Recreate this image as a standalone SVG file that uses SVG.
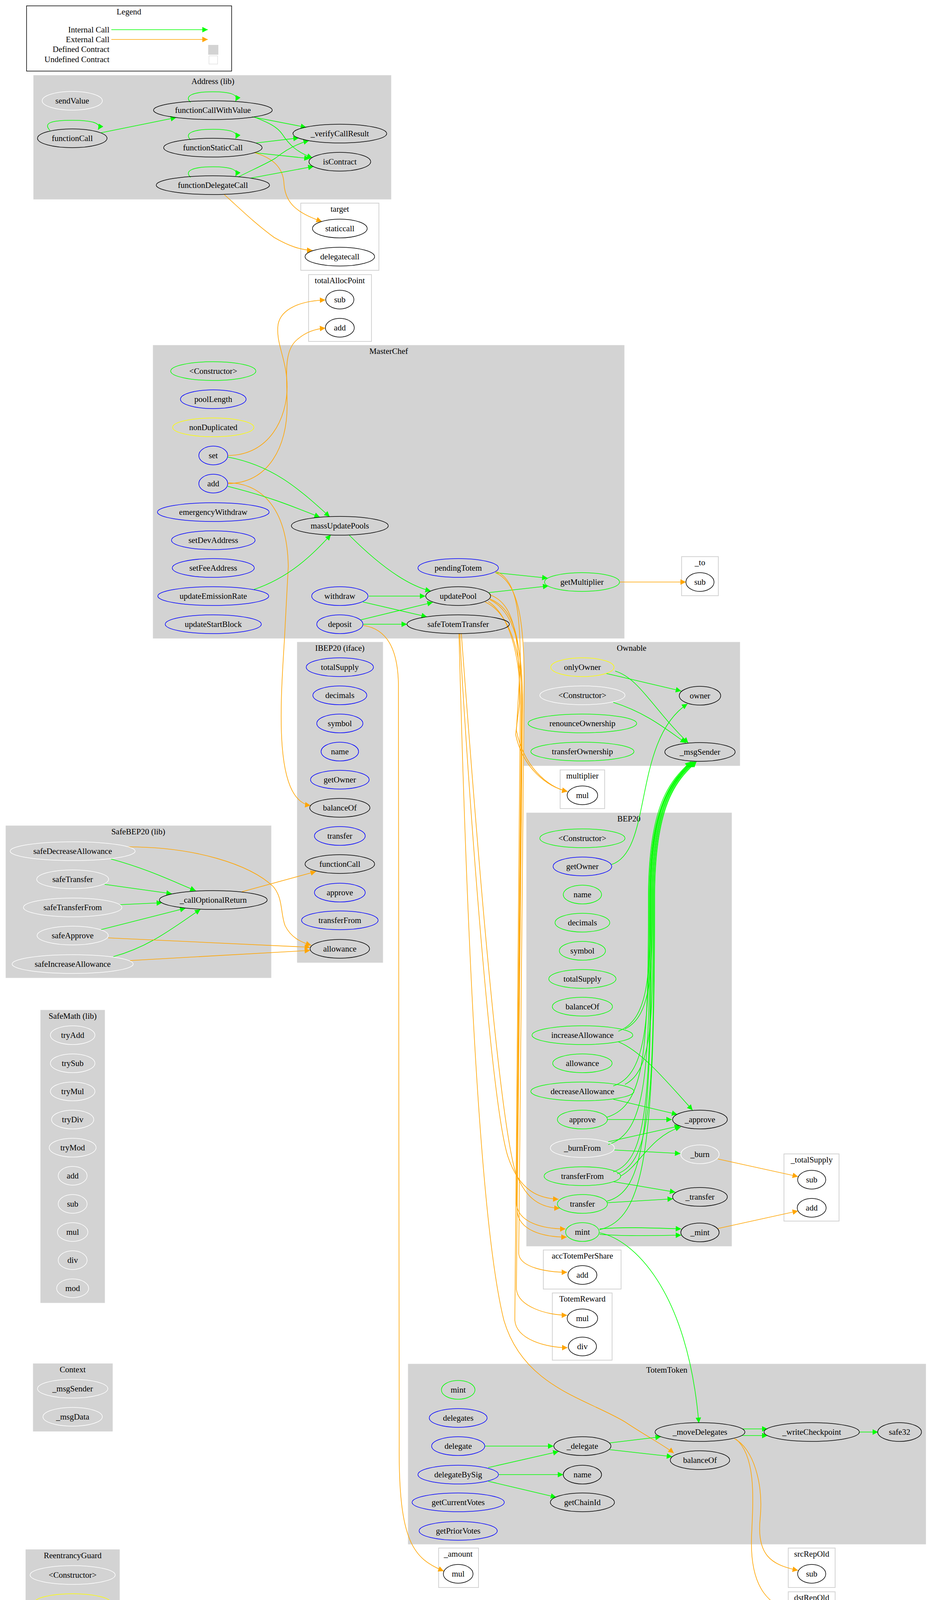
<svg xmlns="http://www.w3.org/2000/svg" width="2386" height="4191" viewBox="0 0 2386 4191">
<style>
text{font-family:"Liberation Serif","Times New Roman",serif;font-size:21px;fill:#000;text-anchor:middle}
.cl{fill:#d3d3d3;stroke:#d3d3d3}
.cu{fill:#fff;stroke:#d3d3d3;stroke-width:2}
ellipse{fill:none;stroke-width:1.5}
.k{stroke:#000}.b{stroke:#0000ff}.g{stroke:#00ff00}.y{stroke:#ffff00}.w{stroke:#fff}
.eg{fill:none;stroke:#00ff00;stroke-width:1.6;marker-end:url(#ag)}
.eo{fill:none;stroke:#ffa500;stroke-width:1.6;marker-end:url(#ao)}
</style>
<defs>
<marker id="ag" viewBox="0 0 10 10" refX="10" refY="5" markerWidth="16" markerHeight="14" markerUnits="userSpaceOnUse" orient="auto"><path d="M0,0L10,5L0,10z" fill="#00ff00"/></marker>
<marker id="ao" viewBox="0 0 10 10" refX="10" refY="5" markerWidth="16" markerHeight="14" markerUnits="userSpaceOnUse" orient="auto"><path d="M0,0L10,5L0,10z" fill="#ffa500"/></marker>
</defs>
<rect width="2386" height="4191" fill="#fff"/>

<g id="legend">
<rect x="68" y="15" width="525" height="167" fill="#fff" stroke="#000" stroke-width="1.5"/>
<text x="330" y="37">Legend</text>
<text x="280" y="83" style="text-anchor:end">Internal Call</text>
<text x="280" y="108" style="text-anchor:end">External Call</text>
<text x="280" y="133" style="text-anchor:end">Defined Contract</text>
<text x="280" y="159" style="text-anchor:end">Undefined Contract</text>
<path class="eg" d="M285,76H532"/>
<path class="eo" d="M285,101H532"/>
<rect x="533" y="115" width="26" height="25" fill="#d3d3d3"/>
<rect x="535" y="143" width="22" height="21" fill="#fff" stroke="#d3d3d3"/>
</g>

<g id="clusters">
<rect class="cl" x="86" y="193" width="915" height="317"/><text x="545" y="215">Address  (lib)</text>
<rect class="cu" x="770" y="520" width="200" height="172"/><text x="870" y="542">target</text>
<rect class="cu" x="790" y="703" width="161" height="171"/><text x="870" y="725">totalAllocPoint</text>
<rect class="cl" x="392" y="884" width="1206" height="750"/><text x="995" y="906">MasterChef</text>
<rect class="cu" x="1745" y="1425" width="94" height="100"/><text x="1792" y="1447">_to</text>
<rect class="cl" x="761" y="1644" width="219" height="820"/><text x="870" y="1666">IBEP20  (iface)</text>
<rect class="cl" x="1341" y="1644" width="553" height="316"/><text x="1617" y="1666">Ownable</text>
<rect class="cu" x="1434" y="1971" width="114" height="99"/><text x="1491" y="1993">multiplier</text>
<rect class="cl" x="1348" y="2081" width="525" height="1109"/><text x="1610" y="2103">BEP20</text>
<rect class="cl" x="15" y="2114" width="679" height="389"/><text x="354" y="2136">SafeBEP20  (lib)</text>
<rect class="cl" x="104" y="2586" width="164" height="749"/><text x="186" y="2608">SafeMath  (lib)</text>
<rect class="cu" x="2007" y="2954" width="141" height="172"/><text x="2078" y="2976">_totalSupply</text>
<rect class="cu" x="1391" y="3200" width="199" height="100"/><text x="1491" y="3222">accTotemPerShare</text>
<rect class="cu" x="1414" y="3310" width="153" height="172"/><text x="1491" y="3332">TotemReward</text>
<rect class="cl" x="85" y="3491" width="203" height="173"/><text x="186" y="3513">Context</text>
<rect class="cl" x="1045" y="3492" width="1325" height="461"/><text x="1707" y="3514">TotemToken</text>
<rect class="cl" x="66" y="3967" width="240" height="173"/><text x="186" y="3989">ReentrancyGuard</text>
<rect class="cu" x="1123" y="3963" width="102" height="101"/><text x="1173" y="3985">_amount</text>
<rect class="cu" x="2018" y="3963" width="120" height="101"/><text x="2078" y="3985">srcRepOld</text>
<rect class="cu" x="2018" y="4075" width="120" height="99"/><text x="2078" y="4097">dstRepOld</text>
</g>

<g id="edges">
<!-- Address -->
<path class="eg" d="M488,262C470,245 495,235 545,235C590,235 612,242 603,259"/>
<path class="eg" d="M128,334C110,315 130,308 185,308C235,308 262,315 251,332"/>
<path class="eg" d="M258,340L451,301"/>
<path class="eg" d="M488,358C470,341 495,331 545,331C590,331 612,338 603,355"/>
<path class="eg" d="M488,454C470,437 495,427 545,427C590,427 612,434 603,451"/>
<path class="eg" d="M645,299L784,326"/>
<path class="eg" d="M652,300C690,315 710,325 723,344C740,370 760,390 800,404"/>
<path class="eg" d="M656,366L765,353"/>
<path class="eg" d="M652,391L793,406"/>
<path class="eo" d="M652,391C700,405 725,430 727,470C730,520 760,545 824,567"/>
<path class="eg" d="M610,453C650,433 690,415 705,405C730,385 760,368 791,360"/>
<path class="eg" d="M642,456L803,426"/>
<path class="eo" d="M574,498C610,530 650,570 702,608C740,630 770,640 800,641"/>
<!-- MasterChef -->
<path class="eo" d="M583,1166C690,1166 735,1070 735,990C735,920 705,880 712,830C720,790 770,770 833,768"/>
<path class="eo" d="M584,1238C690,1236 735,1140 735,1040C735,960 725,900 760,870C780,852 805,842 833,840"/>
<path class="eo" d="M584,1236C660,1236 735,1290 738,1450L728,1640C718,1800 700,2050 795,2062"/>
<path class="eg" d="M583,1170C695,1191 761,1247 844,1323"/>
<path class="eg" d="M583,1245C695,1273 753,1298 819,1324"/>
<path class="eg" d="M650,1509C745,1477 803,1416 847,1369"/>
<path class="eg" d="M894,1370C960,1436 1035,1497 1103,1513"/>
<path class="eg" d="M944,1526H1089"/>
<path class="eg" d="M929,1541L1093,1579"/>
<path class="eg" d="M923,1587L1108,1542"/>
<path class="eg" d="M930,1598H1042"/>
<path class="eg" d="M1268,1466L1402,1480"/>
<path class="eg" d="M1252,1517L1404,1500"/>
<path class="eo" d="M1587,1490H1756"/>
<path class="eo" d="M930,1601C990,1610 1018,1660 1020,1750L1022,3700C1020,3950 1060,3990 1136,4022"/>
<path class="eo" d="M1177,1622C1185,1800 1250,2800 1300,2960C1330,3050 1380,3068 1430,3070"/>
<path class="eo" d="M1181,1622C1195,1800 1265,2800 1318,2995C1345,3075 1390,3092 1433,3093"/>
<path class="eo" d="M1175,1622C1190,2200 1220,3100 1290,3380C1340,3550 1500,3580 1600,3640C1660,3680 1700,3700 1725,3720"/>
<path class="eo" d="M1268,1462C1320,1480 1332,1560 1332,1700L1322,1870C1340,1960 1400,2015 1453,2026"/>
<path class="eo" d="M1253,1522C1315,1545 1330,1620 1330,1800L1320,1880C1338,1965 1400,2015 1453,2026"/>
<path class="eo" d="M1254,1533C1320,1560 1335,1640 1335,1800L1322,3080C1325,3130 1390,3146 1448,3146"/>
<path class="eo" d="M1254,1535C1315,1565 1338,1650 1338,1800L1324,3100C1328,3150 1390,3167 1451,3167"/>
<path class="eo" d="M1268,1466C1325,1490 1342,1580 1342,1750L1328,3210C1332,3245 1400,3257 1452,3257"/>
<path class="eo" d="M1242,1541C1305,1570 1336,1670 1336,1800L1322,3300C1326,3345 1400,3367 1452,3367"/>
<path class="eo" d="M1250,1540C1305,1575 1332,1680 1332,1800L1318,3380C1322,3430 1400,3450 1453,3450"/>
<!-- Ownable / BEP20 -->
<path class="eg" d="M1552,1724L1744,1769"/>
<path class="eg" d="M1575,1718C1636,1736 1672,1815 1762,1902"/>
<path class="eg" d="M1570,1798C1654,1824 1707,1868 1756,1902"/>
<path class="eg" d="M1566,2213C1672,2178 1619,1895 1760,1802"/>
<path class="eg" d="M1583,2640C1660,2610 1665,2500 1665,2300C1665,2060 1720,2000 1770,1950"/>
<path class="eg" d="M1600,2634C1670,2600 1670,2480 1670,2300C1670,2060 1725,2000 1775,1950"/>
<path class="eg" d="M1570,2780C1660,2750 1662,2600 1662,2300C1662,2060 1720,2000 1770,1950"/>
<path class="eg" d="M1600,2776C1672,2740 1672,2600 1672,2300C1672,2060 1725,2000 1778,1950"/>
<path class="eg" d="M1554,2860C1650,2830 1660,2700 1660,2300C1660,2060 1715,2000 1768,1950"/>
<path class="eg" d="M1557,2930C1655,2900 1664,2750 1664,2300C1664,2060 1718,2000 1770,1950"/>
<path class="eg" d="M1570,3000C1660,2970 1666,2800 1666,2300C1666,2060 1720,2000 1773,1950"/>
<path class="eg" d="M1580,3005C1668,2975 1674,2800 1674,2300C1674,2060 1728,2000 1780,1950"/>
<path class="eg" d="M1554,3075C1650,3050 1668,2900 1668,2300C1668,2060 1722,2000 1775,1950"/>
<path class="eg" d="M1535,3148C1650,3120 1676,2950 1676,2300C1676,2060 1730,2000 1783,1950"/>
<path class="eg" d="M1583,2667C1640,2690 1700,2760 1773,2842"/>
<path class="eg" d="M1570,2814L1734,2853"/>
<path class="eg" d="M1554,2866H1720"/>
<path class="eg" d="M1557,2923L1741,2882"/>
<path class="eg" d="M1573,2944L1742,2953"/>
<path class="eg" d="M1588,3011C1636,2987 1663,2910 1743,2885"/>
<path class="eg" d="M1570,3025L1729,3052"/>
<path class="eg" d="M1554,3079L1723,3069"/>
<path class="eg" d="M1535,3146C1600,3140 1680,3144 1744,3146"/>
<path class="eg" d="M1535,3160C1600,3165 1680,3163 1744,3162"/>
<path class="eg" d="M1535,3156C1619,3172 1760,3300 1789,3643"/>
<path class="eo" d="M1838,2967L2043,3012"/>
<path class="eo" d="M1838,3145L2043,3100"/>
<!-- SafeBEP20 -->
<path class="eg" d="M284,2199C383,2226 446,2258 501,2280"/>
<path class="eg" d="M268,2264L440,2288"/>
<path class="eg" d="M306,2316L415,2311"/>
<path class="eg" d="M258,2380L475,2325"/>
<path class="eg" d="M290,2449C383,2424 446,2373 513,2328"/>
<path class="eo" d="M327,2168C500,2168 640,2213 700,2270C725,2300 718,2340 730,2370C745,2400 770,2412 797,2420"/>
<path class="eo" d="M277,2401L794,2425"/>
<path class="eo" d="M333,2459L794,2433"/>
<path class="eo" d="M619,2283L809,2231"/>
<!-- TotemToken -->
<path class="eg" d="M1241,3702H1417"/>
<path class="eg" d="M1250,3757L1430,3716"/>
<path class="eg" d="M1277,3775H1442"/>
<path class="eg" d="M1250,3792L1424,3833"/>
<path class="eg" d="M1560,3694L1692,3678"/>
<path class="eg" d="M1560,3711L1721,3729"/>
<path class="eg" d="M1900,3658H1965"/>
<path class="eg" d="M1900,3675H1965"/>
<path class="eg" d="M2200,3666H2248"/>
<path class="eo" d="M1880,3683C1928,3707 1955,3797 1946,3888C1937,3979 1972,4006 2043,4020"/>
<path class="eo" d="M1884,3684C1937,3729 1928,3843 1924,3933C1919,4070 1972,4115 2043,4129"/>
</g>

<g id="nodes">
<g id="a_sendValue"><ellipse class="w" cx="185" cy="258" rx="77" ry="24"/><text x="185" y="265">sendValue</text></g>
<g id="a_functionCall"><ellipse class="k" cx="185" cy="354" rx="89" ry="24"/><text x="185" y="361">functionCall</text></g>
<g id="a_functionCallWithValue"><ellipse class="k" cx="545" cy="282" rx="152" ry="24"/><text x="545" y="289">functionCallWithValue</text></g>
<g id="a_functionStaticCall"><ellipse class="k" cx="545" cy="378" rx="126" ry="24"/><text x="545" y="385">functionStaticCall</text></g>
<g id="a_functionDelegateCall"><ellipse class="k" cx="545" cy="474" rx="145" ry="24"/><text x="545" y="481">functionDelegateCall</text></g>
<g id="a_verifyCallResult"><ellipse class="k" cx="870" cy="342" rx="120" ry="24"/><text x="870" y="349">_verifyCallResult</text></g>
<g id="a_isContract"><ellipse class="k" cx="870" cy="414" rx="79" ry="24"/><text x="870" y="421">isContract</text></g>
<g id="t_staticcall"><ellipse class="k" cx="870" cy="585" rx="70" ry="24"/><text x="870" y="592">staticcall</text></g>
<g id="t_delegatecall"><ellipse class="k" cx="870" cy="657" rx="89" ry="24"/><text x="870" y="664">delegatecall</text></g>
<g id="tap_sub"><ellipse class="k" cx="870" cy="767" rx="36" ry="24"/><text x="870" y="774">sub</text></g>
<g id="tap_add"><ellipse class="k" cx="870" cy="839" rx="37" ry="24"/><text x="870" y="846">add</text></g>

<g id="mc_ctor"><ellipse class="g" cx="546" cy="950" rx="109" ry="24"/><text x="546" y="957">&lt;Constructor&gt;</text></g>
<g id="mc_poolLength"><ellipse class="b" cx="546" cy="1022" rx="84" ry="24"/><text x="546" y="1029">poolLength</text></g>
<g id="mc_nonDuplicated"><ellipse class="y" cx="546" cy="1094" rx="104" ry="24"/><text x="546" y="1101">nonDuplicated</text></g>
<g id="mc_set"><ellipse class="b" cx="546" cy="1166" rx="37" ry="24"/><text x="546" y="1173">set</text></g>
<g id="mc_add"><ellipse class="b" cx="546" cy="1238" rx="37" ry="24"/><text x="546" y="1245">add</text></g>
<g id="mc_emergencyWithdraw"><ellipse class="b" cx="546" cy="1311" rx="143" ry="24"/><text x="546" y="1318">emergencyWithdraw</text></g>
<g id="mc_setDevAddress"><ellipse class="b" cx="546" cy="1383" rx="107" ry="24"/><text x="546" y="1390">setDevAddress</text></g>
<g id="mc_setFeeAddress"><ellipse class="b" cx="546" cy="1454" rx="105" ry="24"/><text x="546" y="1461">setFeeAddress</text></g>
<g id="mc_updateEmissionRate"><ellipse class="b" cx="546" cy="1526" rx="142" ry="24"/><text x="546" y="1533">updateEmissionRate</text></g>
<g id="mc_updateStartBlock"><ellipse class="b" cx="546" cy="1598" rx="123" ry="24"/><text x="546" y="1605">updateStartBlock</text></g>
<g id="mc_massUpdatePools"><ellipse class="k" cx="870" cy="1346" rx="124" ry="24"/><text x="870" y="1353">massUpdatePools</text></g>
<g id="mc_withdraw"><ellipse class="b" cx="870" cy="1526" rx="72" ry="24"/><text x="870" y="1533">withdraw</text></g>
<g id="mc_deposit"><ellipse class="b" cx="870" cy="1598" rx="59" ry="24"/><text x="870" y="1605">deposit</text></g>
<g id="mc_pendingTotem"><ellipse class="b" cx="1173" cy="1454" rx="103" ry="24"/><text x="1173" y="1461">pendingTotem</text></g>
<g id="mc_updatePool"><ellipse class="k" cx="1173" cy="1526" rx="83" ry="24"/><text x="1173" y="1533">updatePool</text></g>
<g id="mc_safeTotemTransfer"><ellipse class="k" cx="1173" cy="1598" rx="131" ry="24"/><text x="1173" y="1605">safeTotemTransfer</text></g>
<g id="mc_getMultiplier"><ellipse class="g" cx="1490" cy="1490" rx="96" ry="24"/><text x="1490" y="1497">getMultiplier</text></g>
<g id="to_sub"><ellipse class="k" cx="1792" cy="1490" rx="36" ry="24"/><text x="1792" y="1497">sub</text></g>

<g id="i_totalSupply"><ellipse class="b" cx="870" cy="1708" rx="86" ry="24"/><text x="870" y="1715">totalSupply</text></g>
<g id="i_decimals"><ellipse class="b" cx="870" cy="1780" rx="69" ry="24"/><text x="870" y="1787">decimals</text></g>
<g id="i_symbol"><ellipse class="b" cx="870" cy="1852" rx="59" ry="24"/><text x="870" y="1859">symbol</text></g>
<g id="i_name"><ellipse class="b" cx="870" cy="1924" rx="48" ry="24"/><text x="870" y="1931">name</text></g>
<g id="i_getOwner"><ellipse class="b" cx="870" cy="1996" rx="75" ry="24"/><text x="870" y="2003">getOwner</text></g>
<g id="i_balanceOf"><ellipse class="k" cx="870" cy="2068" rx="77" ry="24"/><text x="870" y="2075">balanceOf</text></g>
<g id="i_transfer"><ellipse class="b" cx="870" cy="2140" rx="65" ry="24"/><text x="870" y="2147">transfer</text></g>
<g id="i_functionCall"><ellipse class="k" cx="870" cy="2212" rx="89" ry="24"/><text x="870" y="2219">functionCall</text></g>
<g id="i_approve"><ellipse class="b" cx="870" cy="2285" rx="65" ry="24"/><text x="870" y="2292">approve</text></g>
<g id="i_transferFrom"><ellipse class="b" cx="870" cy="2356" rx="98" ry="24"/><text x="870" y="2363">transferFrom</text></g>
<g id="i_allowance"><ellipse class="k" cx="870" cy="2429" rx="76" ry="24"/><text x="870" y="2436">allowance</text></g>

<g id="o_onlyOwner"><ellipse class="y" cx="1491" cy="1708" rx="81" ry="24"/><text x="1491" y="1715">onlyOwner</text></g>
<g id="o_ctor"><ellipse class="w" cx="1491" cy="1780" rx="109" ry="24"/><text x="1491" y="1787">&lt;Constructor&gt;</text></g>
<g id="o_renounceOwnership"><ellipse class="g" cx="1491" cy="1852" rx="139" ry="24"/><text x="1491" y="1859">renounceOwnership</text></g>
<g id="o_transferOwnership"><ellipse class="g" cx="1491" cy="1924" rx="132" ry="24"/><text x="1491" y="1931">transferOwnership</text></g>
<g id="o_owner"><ellipse class="k" cx="1792" cy="1781" rx="53" ry="24"/><text x="1792" y="1788">owner</text></g>
<g id="o_msgSender"><ellipse class="k" cx="1792" cy="1925" rx="90" ry="24"/><text x="1792" y="1932">_msgSender</text></g>
<g id="m_mul"><ellipse class="k" cx="1491" cy="2036" rx="39" ry="24"/><text x="1491" y="2043">mul</text></g>

<g id="b_ctor"><ellipse class="g" cx="1491" cy="2146" rx="109" ry="24"/><text x="1491" y="2153">&lt;Constructor&gt;</text></g>
<g id="b_getOwner"><ellipse class="b" cx="1491" cy="2218" rx="75" ry="24"/><text x="1491" y="2225">getOwner</text></g>
<g id="b_name"><ellipse class="g" cx="1491" cy="2290" rx="49" ry="24"/><text x="1491" y="2297">name</text></g>
<g id="b_decimals"><ellipse class="g" cx="1491" cy="2362" rx="70" ry="24"/><text x="1491" y="2369">decimals</text></g>
<g id="b_symbol"><ellipse class="g" cx="1491" cy="2434" rx="59" ry="24"/><text x="1491" y="2441">symbol</text></g>
<g id="b_totalSupply"><ellipse class="g" cx="1491" cy="2506" rx="86" ry="24"/><text x="1491" y="2513">totalSupply</text></g>
<g id="b_balanceOf"><ellipse class="g" cx="1491" cy="2577" rx="77" ry="24"/><text x="1491" y="2584">balanceOf</text></g>
<g id="b_increaseAllowance"><ellipse class="g" cx="1491" cy="2650" rx="129" ry="24"/><text x="1491" y="2657">increaseAllowance</text></g>
<g id="b_allowance"><ellipse class="g" cx="1491" cy="2722" rx="76" ry="24"/><text x="1491" y="2729">allowance</text></g>
<g id="b_decreaseAllowance"><ellipse class="g" cx="1491" cy="2794" rx="132" ry="24"/><text x="1491" y="2801">decreaseAllowance</text></g>
<g id="b_approve"><ellipse class="g" cx="1491" cy="2866" rx="64" ry="24"/><text x="1491" y="2873">approve</text></g>
<g id="b_burnFrom"><ellipse class="w" cx="1491" cy="2939" rx="82" ry="24"/><text x="1491" y="2946">_burnFrom</text></g>
<g id="b_transferFrom"><ellipse class="g" cx="1491" cy="3011" rx="98" ry="24"/><text x="1491" y="3018">transferFrom</text></g>
<g id="b_transfer"><ellipse class="g" cx="1491" cy="3082" rx="64" ry="24"/><text x="1491" y="3089">transfer</text></g>
<g id="b_mint"><ellipse class="g" cx="1491" cy="3154" rx="43" ry="24"/><text x="1491" y="3161">mint</text></g>
<g id="b__approve"><ellipse class="k" cx="1792" cy="2866" rx="70" ry="24"/><text x="1792" y="2873">_approve</text></g>
<g id="b__burn"><ellipse class="w" cx="1792" cy="2955" rx="49" ry="24"/><text x="1792" y="2962">_burn</text></g>
<g id="b__transfer"><ellipse class="k" cx="1792" cy="3064" rx="70" ry="24"/><text x="1792" y="3071">_transfer</text></g>
<g id="b__mint"><ellipse class="k" cx="1792" cy="3155" rx="49" ry="24"/><text x="1792" y="3162">_mint</text></g>
<g id="ts_sub"><ellipse class="k" cx="2078" cy="3020" rx="36" ry="24"/><text x="2078" y="3027">sub</text></g>
<g id="ts_add"><ellipse class="k" cx="2078" cy="3092" rx="37" ry="24"/><text x="2078" y="3099">add</text></g>
<g id="atps_add"><ellipse class="k" cx="1491" cy="3264" rx="37" ry="24"/><text x="1491" y="3271">add</text></g>
<g id="tr_mul"><ellipse class="k" cx="1491" cy="3375" rx="39" ry="24"/><text x="1491" y="3382">mul</text></g>
<g id="tr_div"><ellipse class="k" cx="1491" cy="3447" rx="36" ry="24"/><text x="1491" y="3454">div</text></g>

<g id="s_safeDecreaseAllowance"><ellipse class="w" cx="186" cy="2179" rx="160" ry="24"/><text x="186" y="2186">safeDecreaseAllowance</text></g>
<g id="s_safeTransfer"><ellipse class="w" cx="186" cy="2251" rx="92" ry="24"/><text x="186" y="2258">safeTransfer</text></g>
<g id="s_safeTransferFrom"><ellipse class="w" cx="186" cy="2323" rx="126" ry="24"/><text x="186" y="2330">safeTransferFrom</text></g>
<g id="s_safeApprove"><ellipse class="w" cx="186" cy="2395" rx="91" ry="24"/><text x="186" y="2402">safeApprove</text></g>
<g id="s_safeIncreaseAllowance"><ellipse class="w" cx="186" cy="2468" rx="155" ry="24"/><text x="186" y="2475">safeIncreaseAllowance</text></g>
<g id="s_callOptionalReturn"><ellipse class="k" cx="546" cy="2304" rx="138" ry="24"/><text x="546" y="2311">_callOptionalReturn</text></g>

<g id="sm_tryAdd"><ellipse class="w" cx="186" cy="2650" rx="57" ry="24"/><text x="186" y="2657">tryAdd</text></g>
<g id="sm_trySub"><ellipse class="w" cx="186" cy="2722" rx="57" ry="24"/><text x="186" y="2729">trySub</text></g>
<g id="sm_tryMul"><ellipse class="w" cx="186" cy="2794" rx="57" ry="24"/><text x="186" y="2801">tryMul</text></g>
<g id="sm_tryDiv"><ellipse class="w" cx="186" cy="2866" rx="54" ry="24"/><text x="186" y="2873">tryDiv</text></g>
<g id="sm_tryMod"><ellipse class="w" cx="186" cy="2938" rx="60" ry="24"/><text x="186" y="2945">tryMod</text></g>
<g id="sm_add"><ellipse class="w" cx="186" cy="3010" rx="37" ry="24"/><text x="186" y="3017">add</text></g>
<g id="sm_sub"><ellipse class="w" cx="186" cy="3082" rx="37" ry="24"/><text x="186" y="3089">sub</text></g>
<g id="sm_mul"><ellipse class="w" cx="186" cy="3154" rx="39" ry="24"/><text x="186" y="3161">mul</text></g>
<g id="sm_div"><ellipse class="w" cx="186" cy="3226" rx="37" ry="24"/><text x="186" y="3233">div</text></g>
<g id="sm_mod"><ellipse class="w" cx="186" cy="3298" rx="41" ry="24"/><text x="186" y="3305">mod</text></g>

<g id="c_msgSender"><ellipse class="w" cx="186" cy="3555" rx="90" ry="24"/><text x="186" y="3562">_msgSender</text></g>
<g id="c_msgData"><ellipse class="w" cx="186" cy="3627" rx="76" ry="24"/><text x="186" y="3634">_msgData</text></g>
<g id="r_ctor"><ellipse class="w" cx="186" cy="4032" rx="109" ry="24"/><text x="186" y="4039">&lt;Constructor&gt;</text></g>
<g id="r_nonReentrant"><ellipse class="y" cx="186" cy="4104" rx="99" ry="24"/><text x="186" y="4111">nonReentrant</text></g>

<g id="tt_mint"><ellipse class="g" cx="1173" cy="3558" rx="43" ry="24"/><text x="1173" y="3565">mint</text></g>
<g id="tt_delegates"><ellipse class="b" cx="1173" cy="3630" rx="74" ry="24"/><text x="1173" y="3637">delegates</text></g>
<g id="tt_delegate"><ellipse class="b" cx="1173" cy="3702" rx="68" ry="24"/><text x="1173" y="3709">delegate</text></g>
<g id="tt_delegateBySig"><ellipse class="b" cx="1173" cy="3775" rx="103" ry="24"/><text x="1173" y="3782">delegateBySig</text></g>
<g id="tt_getCurrentVotes"><ellipse class="b" cx="1173" cy="3846" rx="118" ry="24"/><text x="1173" y="3853">getCurrentVotes</text></g>
<g id="tt_getPriorVotes"><ellipse class="b" cx="1173" cy="3919" rx="100" ry="24"/><text x="1173" y="3926">getPriorVotes</text></g>
<g id="tt__delegate"><ellipse class="k" cx="1491" cy="3702" rx="73" ry="24"/><text x="1491" y="3709">_delegate</text></g>
<g id="tt_name"><ellipse class="k" cx="1491" cy="3775" rx="49" ry="24"/><text x="1491" y="3782">name</text></g>
<g id="tt_getChainId"><ellipse class="k" cx="1491" cy="3846" rx="82" ry="24"/><text x="1491" y="3853">getChainId</text></g>
<g id="tt_moveDelegates"><ellipse class="k" cx="1792" cy="3666" rx="115" ry="24"/><text x="1792" y="3673">_moveDelegates</text></g>
<g id="tt_balanceOf"><ellipse class="k" cx="1792" cy="3738" rx="76" ry="24"/><text x="1792" y="3745">balanceOf</text></g>
<g id="tt_writeCheckpoint"><ellipse class="k" cx="2078" cy="3666" rx="122" ry="24"/><text x="2078" y="3673">_writeCheckpoint</text></g>
<g id="tt_safe32"><ellipse class="k" cx="2303" cy="3666" rx="56" ry="24"/><text x="2303" y="3673">safe32</text></g>
<g id="am_mul"><ellipse class="k" cx="1173" cy="4029" rx="38" ry="24"/><text x="1173" y="4036">mul</text></g>
<g id="src_sub"><ellipse class="k" cx="2078" cy="4029" rx="36" ry="24"/><text x="2078" y="4036">sub</text></g>
<g id="dst_add"><ellipse class="k" cx="2078" cy="4140" rx="37" ry="24"/><text x="2078" y="4147">add</text></g>
</g>
</svg>
